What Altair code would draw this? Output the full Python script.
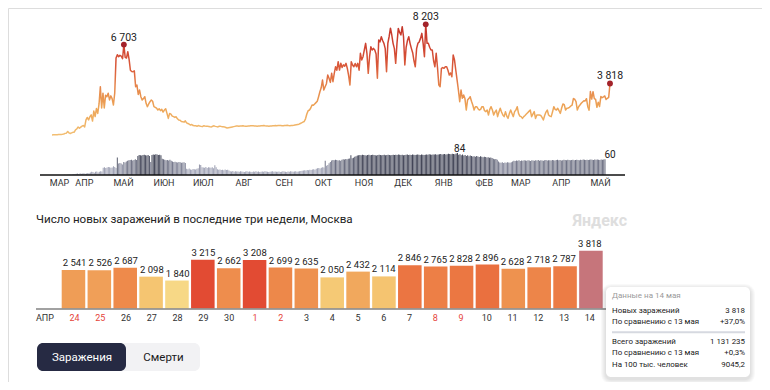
import altair as alt
import pandas as pd

START = pd.Timestamp("2020-03-13")

# ---- daily new cases, Moscow ----
cases_mar20 = [6, 10, 12, 20, 24, 33, 33, 38, 53, 71, 120, 136, 262, 157, 114, 157, 197, 212, 387]
cases_apr20 = [450, 590, 500, 580, 660, 700, 600, 1120, 1300, 1120, 1350, 1490, 1030, 1770, 1370,
               1960, 1600, 2300, 3570, 2000, 3100, 2000, 2950, 2840, 3100, 2600, 2900, 2700, 2220, 3100]
cases_may20 = [5700, 5950, 5800, 5900, 5850, 5650, 6703, 5750, 5700, 6170, 5600, 4800, 4700, 4690, 4750,
               3580, 3700, 3000, 3330, 2840, 2590, 2700, 2840, 2350, 2100, 2300, 2470, 2590, 2500, 2100, 2050]
cases_jun20 = [1990, 1850, 1950, 1800, 1900, 1700, 1850, 1950, 1600, 1230, 1600, 1550, 1400, 1360, 1300,
               1350, 1200, 1110, 1100, 1000, 990, 950, 1050, 900, 850, 800, 740, 780, 700, 680]
cases_jul20 = [680, 650, 700, 660, 640, 620, 680, 660, 650, 640, 630, 610, 600, 650, 680, 640,
               620, 600, 650, 640, 620, 610, 600, 560, 520, 540, 560, 580, 600, 620, 640]
cases_aug20 = [660, 670, 650, 660, 670, 680, 660, 650, 640, 660, 670, 680, 690, 680, 670, 660,
               650, 660, 670, 680, 690, 700, 680, 670, 660, 650, 660, 670, 680, 690, 700]
cases_sep20 = [690, 700, 710, 700, 690, 680, 700, 710, 720, 700, 690, 700, 710, 720, 740,
               760, 780, 800, 850, 900, 950, 1000, 1200, 1560, 1800, 1850, 2000, 2220, 2200, 2300]
cases_oct20 = [2400, 2500, 2840, 3200, 3500, 4070, 3330, 3580, 3800, 4440, 4200, 3900, 4570, 3950, 4570, 5060,
               4800, 5430, 4810, 5310, 5000, 5200, 5100, 5310, 4930, 4400, 3700, 5430, 5190, 5060, 5300]
cases_nov20 = [5060, 5310, 4800, 6050, 5560, 5800, 6300, 6790, 6050, 4570, 5800, 6540, 6300, 6420, 6300,
               6000, 4200, 7040, 6900, 7280, 7000, 6790, 6400, 4690, 6800, 7300, 7918, 7410, 6790, 6400]
cases_dec20 = [5310, 6800, 7900, 7600, 7410, 8030, 7280, 5190, 6500, 7000, 7280, 6790, 6420, 6100, 5500, 5060,
               6400, 6790, 6900, 7160, 7530, 6790, 5800, 8203, 6790, 6790, 6500, 6300, 6300, 5500, 5060]
cases_jan21 = [6050, 5000, 3700, 3580, 4940, 5000, 4940, 5060, 5060, 4800, 4440, 4600, 4320, 5930, 5560, 4800,
               4070, 3330, 2470, 3330, 2720, 2960, 2700, 1850, 2590, 2700, 2840, 2500, 2220, 1850, 2100]
cases_feb21 = [2100, 1950, 1850, 1900, 2100, 2100, 1800, 1730, 1850, 1480, 1900, 2100, 1850, 1480,
               1700, 1850, 1360, 1700, 1980, 1700, 1480, 1360, 1730, 1400, 1230, 1600, 1850, 1600]
cases_mar21 = [1360, 1730, 1850, 2100, 1600, 1400, 1360, 1230, 1360, 1450, 1550, 1650, 1750, 1850, 1360, 1550,
               1730, 1230, 1480, 1480, 1480, 1450, 1300, 1110, 1450, 1700, 1850, 1480, 1400, 1360, 1700]
cases_apr21 = [2100, 1900, 1850, 1980, 1800, 1600, 2000, 2300, 2250, 1850, 1980, 2000, 2050, 2150, 2220,
               2700, 2650, 2470, 1850, 2100, 2220, 2350, 2450, 2541, 2526, 2687, 2098, 1840, 3215, 2662]
cases_may21 = [3208, 2699, 2635, 2050, 2432, 2114, 2846, 2765, 2828, 2896, 2628, 2718, 2787, 3818]

# ---- daily deaths, Moscow ----
deaths_mar20 = [0, 0, 0, 0, 0, 0, 1, 0, 1, 1, 2, 1, 2, 3, 4, 5, 6, 4, 7]
deaths_apr20 = [5, 6, 7, 5, 6, 8, 7, 10, 12, 11, 9, 12, 13, 10, 12, 14, 13, 28, 30, 27, 29, 31, 30, 28, 29,
                33, 31, 27, 67, 44]
deaths_may20 = [46, 44, 40, 50, 48, 52, 54, 56, 57, 58, 55, 57, 60, 57, 73, 76, 75, 74, 76, 77, 75, 74, 76,
                73, 50, 76, 78, 77, 79, 78, 76]
deaths_jun20 = [77, 75, 62, 60, 58, 56, 57, 55, 58, 54, 52, 50, 51, 49, 48, 50, 49, 47, 48, 49, 46, 24, 22,
                25, 21, 20, 23, 22, 21, 24]
deaths_jul20 = [26, 40, 38, 30, 29, 28, 31, 27, 30, 29, 28, 30, 26, 37, 30, 22, 20, 21, 19, 20, 18, 21, 19,
                20, 17, 14, 13, 15, 12, 14, 13]
deaths_aug20 = [13, 12, 14, 13, 12, 11, 13, 14, 12, 13, 12, 11, 13, 12, 14, 12, 13, 11, 12, 13, 12, 14, 13,
                12, 11, 12, 13, 14, 12, 13, 12]
deaths_sep20 = [12, 13, 11, 12, 14, 13, 12, 11, 13, 12, 14, 13, 12, 13, 14, 12, 13, 14, 15, 16, 17, 18, 17,
                19, 18, 20, 19, 21, 22, 20]
deaths_oct20 = [24, 26, 27, 25, 28, 30, 29, 54, 35, 38, 45, 50, 55, 57, 56, 58, 57, 55, 56, 54, 58, 60, 59,
                61, 60, 62, 63, 75, 64, 66, 70]
deaths_nov20 = [72, 74, 75, 76, 75, 77, 76, 75, 74, 76, 77, 75, 76, 77, 76, 75, 74, 76, 77, 76, 75, 76, 77,
                75, 76, 77, 76, 75, 76, 77]
deaths_dec20 = [76, 77, 76, 78, 77, 76, 77, 75, 76, 77, 78, 76, 77, 76, 78, 77, 76, 77, 78, 77, 76, 78, 77,
                76, 77, 78, 77, 79, 78, 77, 78]
deaths_jan21 = [78, 79, 77, 78, 79, 80, 78, 79, 80, 78, 79, 81, 80, 79, 81, 80, 79, 82, 84, 77, 79, 75, 78,
                74, 76, 73, 75, 72, 74, 73, 71]
deaths_feb21 = [72, 70, 73, 71, 69, 72, 70, 68, 70, 69, 67, 68, 66, 67, 65, 62, 60, 61, 58, 52, 48, 47, 49,
                46, 48, 47, 49, 48]
deaths_mar21 = [47, 49, 52, 54, 53, 55, 54, 56, 53, 55, 54, 56, 55, 54, 56, 55, 53, 56, 55, 54, 56, 55, 57,
                54, 56, 55, 54, 56, 57, 55, 56]
deaths_apr21 = [56, 55, 57, 56, 55, 57, 58, 56, 57, 55, 56, 58, 57, 56, 58, 57, 56, 57, 58, 56, 57, 58, 57,
                56, 58, 57, 59, 58, 57, 58]
deaths_may21 = [57, 58, 59, 58, 57, 59, 58, 59, 58, 57, 59, 58, 59, 60]

month_names = ["МАР", "АПР", "МАЙ", "ИЮН", "ИЮЛ", "АВГ", "СЕН", "ОКТ", "НОЯ", "ДЕК",
               "ЯНВ", "ФЕВ", "МАР", "АПР", "МАЙ"]
month_first = ["2020-03-13", "2020-04-01", "2020-05-01", "2020-06-01", "2020-07-01", "2020-08-01",
               "2020-09-01", "2020-10-01", "2020-11-01", "2020-12-01", "2021-01-01", "2021-02-01",
               "2021-03-01", "2021-04-01", "2021-05-01"]

title_text = "Число новых заражений в последние три недели, Москва"
first_month_label = "АПР"
tip_header = "Данные на 14 мая"
tip_labels = ["Новых заражений", "По сравнению с 13 мая", "Всего заражений",
              "По сравнению с 13 мая", "На 100 тыс. человек"]
tip_values = ["3 818", "+37,0%", "1 131 235", "+0,3%", "9045,2"]
buttons = ["Заражения", "Смерти"]

cases = (cases_mar20 + cases_apr20 + cases_may20 + cases_jun20 + cases_jul20 + cases_aug20 +
         cases_sep20 + cases_oct20 + cases_nov20 + cases_dec20 + cases_jan21 + cases_feb21 +
         cases_mar21 + cases_apr21 + cases_may21)
deaths = (deaths_mar20 + deaths_apr20 + deaths_may20 + deaths_jun20 + deaths_jul20 + deaths_aug20 +
          deaths_sep20 + deaths_oct20 + deaths_nov20 + deaths_dec20 + deaths_jan21 + deaths_feb21 +
          deaths_mar21 + deaths_apr21 + deaths_may21)
assert len(cases) == 428, len(cases)
assert len(deaths) == 428, len(deaths)

N = len(cases)
dates = pd.date_range(START, periods=N, freq="D")


def fmt(v):
    return f"{v:,}".replace(",", " ")


top = pd.DataFrame({"day": list(range(N)), "cases": cases, "deaths": deaths})
months = pd.DataFrame({"name": month_names,
                       "day": [(pd.Timestamp(d) - START).days for d in month_first]})
peaks = top.iloc[[cases.index(6703), cases.index(8203), N - 1]].copy()
peaks["label"] = peaks["cases"].map(fmt)
dpeaks = top.iloc[[deaths.index(84), N - 1]].copy()
dpeaks["label"] = dpeaks["deaths"].astype(str)

recent = pd.DataFrame({
    "i": list(range(21)),
    "v": cases[-21:],
    "dnum": [str(d.day) for d in dates[-21:]],
    "weekend": [bool(d.dayofweek >= 5) for d in dates[-21:]],
})
recent["label"] = recent["v"].map(fmt)
recent["sel"] = recent["i"] == 20

FONT = "Roboto"
X_TOP = alt.Scale(domain=[0, N - 1], range=[44, 602], nice=False, zero=False)
Y_CASES = alt.Scale(domain=[0, 8203], range=[127, 16.3], nice=False, zero=False)
Y_DEATHS = alt.Scale(domain=[0, 84], range=[167, 145], nice=False, zero=False)
X_BAR = alt.Scale(domain=list(range(21)), range=[53.7, 594.7], paddingInner=0.09, paddingOuter=0)
Y_BAR = alt.Scale(domain=[0, 3818], range=[300.3, 242.7], nice=False, zero=False)

grad = alt.Gradient(
    gradient="linear", x1=0, x2=0, y1=1, y2=0,
    stops=[alt.GradientStop(offset=0, color="#F2BE72"),
           alt.GradientStop(offset=0.25, color="#EDA456"),
           alt.GradientStop(offset=0.45, color="#E5834A"),
           alt.GradientStop(offset=0.6, color="#DB5C3B"),
           alt.GradientStop(offset=0.8, color="#CF4331"),
           alt.GradientStop(offset=1, color="#C3362A")])

line = alt.Chart(top).mark_line(strokeWidth=1.5, color=grad, strokeJoin="round").encode(
    x=alt.X("day:Q", scale=X_TOP, axis=None),
    y=alt.Y("cases:Q", scale=Y_CASES, axis=None))

dbars = alt.Chart(top).mark_bar(size=1).encode(
    x=alt.X("day:Q", scale=X_TOP, axis=None),
    y=alt.Y("deaths:Q", scale=Y_DEATHS, axis=None, stack=None),
    color=alt.Color("deaths:Q", legend=None,
                    scale=alt.Scale(domain=[35, 84], range=["#9FA2B5", "#35384A"], clamp=True)))

one = pd.DataFrame({"k": [0]})


def label(text, x, y, **kw):
    return alt.Chart(one).mark_text(text=text, font=FONT, **kw).encode(
        x=alt.value(x), y=alt.value(y))


def box(x, x2, y, y2, **kw):
    return alt.Chart(one).mark_rect(**kw).encode(
        x=alt.value(x), x2=alt.value(x2), y=alt.value(y), y2=alt.value(y2))


def hline(x, x2, y, **kw):
    return alt.Chart(one).mark_rule(**kw).encode(
        x=alt.value(x), x2=alt.value(x2), y=alt.value(y))


top_axis = hline(32, 617, 167, color="#111111", strokeWidth=1.5)

mlabels = alt.Chart(months).mark_text(font=FONT, fontSize=9, color="#333333", dx=7.5,
                                      baseline="middle").encode(
    x=alt.X("day:Q", scale=X_TOP, axis=None), y=alt.value(175), text="name:N")

dots = alt.Chart(peaks).mark_circle(size=34, color="#A3232A", opacity=1).encode(
    x=alt.X("day:Q", scale=X_TOP, axis=None), y=alt.Y("cases:Q", scale=Y_CASES, axis=None))
plabels = alt.Chart(peaks).mark_text(font=FONT, fontSize=10.5, color="#222222", dy=-4,
                                     baseline="alphabetic").encode(
    x=alt.X("day:Q", scale=X_TOP, axis=None), y=alt.Y("cases:Q", scale=Y_CASES, axis=None),
    text="label:N")
dlabels = alt.Chart(dpeaks).mark_text(font=FONT, fontSize=10, color="#222222", dy=-1.5,
                                      baseline="alphabetic").encode(
    x=alt.X("day:Q", scale=X_TOP, axis=None), y=alt.Y("deaths:Q", scale=Y_DEATHS, axis=None),
    text="label:N")

bars = alt.Chart(recent).mark_bar().encode(
    x=alt.X("i:O", scale=X_BAR, axis=None),
    y=alt.Y("v:Q", scale=Y_BAR, axis=None, stack=None),
    color=alt.condition(
        "datum.sel", alt.value("#C6757B"),
        alt.Color("v:Q", legend=None,
                  scale=alt.Scale(domain=[1840, 2100, 2500, 2800, 3200],
                                  range=["#F7D886", "#F5C571", "#F0A25A", "#EC7A44", "#E24B33"],
                                  clamp=True))))
blabels = alt.Chart(recent).mark_text(font=FONT, fontSize=9.5, color="#222222", dy=-4,
                                      baseline="alphabetic").encode(
    x=alt.X("i:O", scale=X_BAR, axis=None), y=alt.Y("v:Q", scale=Y_BAR, axis=None),
    text="label:N")
daylabels = alt.Chart(recent).mark_text(font=FONT, fontSize=9, baseline="middle").encode(
    x=alt.X("i:O", scale=X_BAR, axis=None), y=alt.value(309.5), text="dnum:N",
    color=alt.condition("datum.weekend", alt.value("#E5443A"), alt.value("#333333")))
bot_axis = hline(28, 599, 301, color="#444444", strokeWidth=1.2)

layers = [line, dbars, top_axis, mlabels, dots, plabels, dlabels,
          bars, blabels, daylabels, bot_axis,
          label(first_month_label, 28, 309.5, fontSize=9, color="#333333", align="left", baseline="middle"),
          label(title_text, 28, 212, fontSize=11.6, color="#222222", align="left", baseline="middle"),
          label("Яндекс", 619, 213, fontSize=16, fontWeight="bold", color="#DEDEDE", align="right",
                baseline="middle")]

# tooltip card
for i in range(1, 6):
    layers.append(box(598 - i, 742 + i, 279 - i + 2, 369 + i + 2, color="#000000",
                      opacity=0.025, cornerRadius=5 + i))
layers.append(box(598, 742, 279, 369, color="#FFFFFF", cornerRadius=5))
layers.append(label(tip_header, 604, 288, fontSize=8, color="#9A9A9A", align="left", baseline="middle"))
tip_y = [302.7, 314.3, 334.3, 345.3, 357]
for lab, val, yy in zip(tip_labels, tip_values, tip_y):
    layers.append(label(lab, 604, yy, fontSize=7.9, color="#1A1A1A", align="left", baseline="middle"))
    layers.append(label(val, 737, yy, fontSize=7.9, color="#1A1A1A", align="right", baseline="middle"))
layers.append(hline(604, 737, 324.3, color="#D6D9E0", strokeWidth=2))

# buttons
layers.append(box(29, 192, 335, 363, color="#F2F2F4", cornerRadius=6))
layers.append(box(29, 118, 335, 363, color="#262A43", cornerRadius=6))
layers.append(label(buttons[0], 74, 349.5, fontSize=11.5, color="#FFFFFF", align="center", baseline="middle"))
layers.append(label(buttons[1], 155.5, 349.5, fontSize=11.5, color="#1A1A1A", align="center", baseline="middle"))

chart = alt.layer(*layers).resolve_scale(
    x="independent", y="independent", color="independent"
).properties(
    width=754, height=374, padding=0, autosize=alt.AutoSizeParams(type="none")
).configure_view(stroke=None).configure(background="#FFFFFF")

chart.save("out.html", embed_options={"renderer": "svg", "actions": False})
